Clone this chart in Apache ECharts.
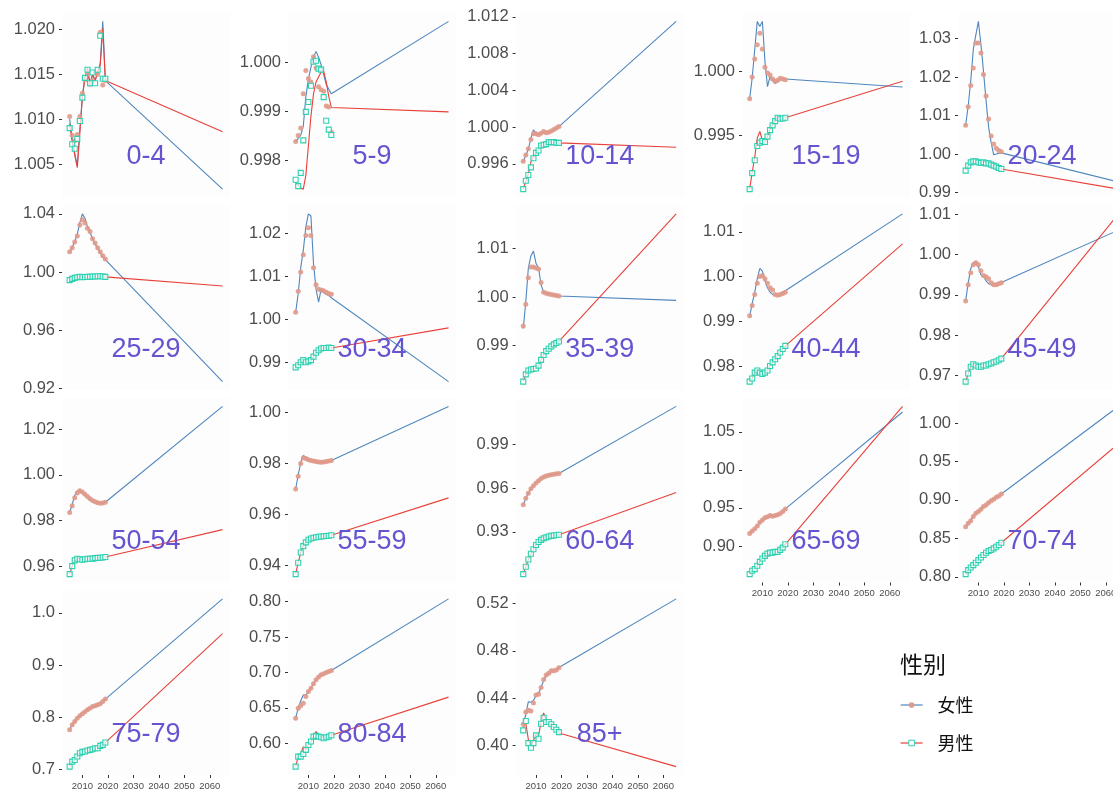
<!DOCTYPE html>
<html>
<head>
<meta charset="utf-8">
<script src="https://cdn.jsdelivr.net/npm/echarts@6/dist/echarts.min.js"></script>
<style>
html,body{margin:0;padding:0;background:#fff;}
#chart{width:1113px;height:791px;}
</style>
</head>
<body>
<div id="chart"></div>
<script>
// Observed years (points) and years of the fitted / projected lines
const YEARS = [2005,2006,2007,2008,2009,2010,2011,2012,2013,2014,2015,2016,2017,2018,2019];
const LINE_YEARS = [2005,2006,2007,2008,2009,2010,2011,2012,2013,2014,2015,2016,2017,2018,2019,2065];
const X_TICKS = [2010,2020,2030,2040,2050,2060];

const AGE_GROUPS = ['0-4','5-9','10-14','15-19','20-24','25-29','30-34','35-39','40-44','45-49',
  '50-54','55-59','60-64','65-69','70-74','75-79','80-84','85+'];

// 0-4
const F_PTS_0_4 = [1.0103,1.0082,1.0076,1.0083,1.0103,1.0129,1.0144,1.0150,1.0139,1.0143,1.0152,1.0150,1.0197,1.0138,1.0143];
const M_PTS_0_4 = [1.0090,1.0072,1.0067,1.0078,1.0098,1.0124,1.0146,1.0155,1.0140,1.0152,1.0140,1.0155,1.0193,1.0145,1.0145];
const F_FIT_0_4 = [1.0100,1.0078,1.0062,1.0048,1.0088,1.0125,1.0148,1.0155,1.0140,1.0150,1.0143,1.0152,1.0162,1.0209,1.0143,1.0022];
const M_FIT_0_4 = [1.0095,1.0075,1.0060,1.0046,1.0085,1.0125,1.0145,1.0157,1.0138,1.0150,1.0143,1.0152,1.0160,1.0201,1.0143,1.0086];
const Y_TICKS_0_4 = ['1.005','1.010','1.015','1.020'];

// 5-9
const F_PTS_5_9 = [0.99839,0.99851,0.99866,0.99936,0.99983,0.99967,0.99960,1.00011,0.99988,0.99950,0.99944,0.99941,0.99911,0.99909,0.99858];
const M_PTS_5_9 = [0.99761,0.99748,0.99775,0.99841,0.99899,0.99919,0.99952,1.00001,1.00003,0.99987,0.99985,0.99929,0.99881,0.99863,0.99852];
const F_FIT_5_9 = [0.99838,0.99845,0.99852,0.99870,0.99930,0.99965,0.99990,1.00010,1.00022,1.00010,0.99995,0.99975,0.99955,0.99945,0.99936,1.00083];
const M_FIT_5_9 = [0.99756,0.99750,0.99744,0.99742,0.99770,0.99830,0.99890,0.99935,0.99960,0.99970,0.99980,0.99982,0.99960,0.99930,0.99908,0.99899];
const Y_TICKS_5_9 = ['0.998','0.999','1.000'];

// 10-14
const F_PTS_10_14 = [0.99628,0.99697,0.99763,0.99865,0.99927,0.99927,0.99916,0.99934,0.99953,0.99938,0.99945,0.99956,0.99974,0.99989,1.00007];
const M_PTS_10_14 = [0.99325,0.99416,0.99478,0.99562,0.99661,0.99719,0.99745,0.99799,0.99807,0.99814,0.99836,0.99836,0.99836,0.99828,0.99828];
const F_FIT_10_14 = [0.99628,0.99690,0.99760,0.99880,0.99970,0.99935,0.99920,0.99930,0.99950,0.99940,0.99945,0.99955,0.99970,0.99985,1.00005,1.01150];
const M_FIT_10_14 = [0.99325,0.99410,0.99490,0.99620,0.99680,0.99720,0.99750,0.99795,0.99805,0.99815,0.99832,0.99835,0.99835,0.99830,0.99828,0.99781];
const Y_TICKS_10_14 = ['0.996','1.000','1.004','1.008','1.012'];

// 15-19
const F_PTS_15_19 = [0.99785,0.99956,1.00096,1.00207,1.00298,1.00174,1.00031,0.99987,0.99972,0.99940,0.99922,0.99930,0.99946,0.99940,0.99935];
const M_PTS_15_19 = [0.99080,0.99205,0.99306,0.99417,0.99443,0.99456,0.99448,0.99490,0.99541,0.99578,0.99611,0.99637,0.99630,0.99632,0.99637];
const F_FIT_15_19 = [0.99785,0.99950,1.00170,1.00390,1.00350,1.00390,1.00080,0.99880,0.99960,0.99930,0.99905,0.99920,0.99945,0.99940,0.99940,0.99878];
const M_FIT_15_19 = [0.99080,0.99210,0.99330,0.99480,0.99530,0.99460,0.99445,0.99490,0.99545,0.99580,0.99615,0.99650,0.99635,0.99632,0.99637,0.99922];
const Y_TICKS_15_19 = ['0.995','1.000'];

// 20-24
const F_PTS_20_24 = [1.0075,1.0123,1.0178,1.0224,1.0289,1.0289,1.0263,1.0207,1.0151,1.0091,1.0047,1.0026,1.0015,1.0009,1.0006];
const M_PTS_20_24 = [0.99569,0.99698,0.99784,0.99810,0.99810,0.99784,0.99767,0.99784,0.99758,0.99758,0.99724,0.99698,0.99672,0.99638,0.99612];
const F_FIT_20_24 = [1.0075,1.0125,1.0190,1.0272,1.0310,1.0345,1.0285,1.0215,1.0140,1.0070,1.0030,0.9998,1.0000,1.0002,1.0003,0.99273];
const M_FIT_20_24 = [0.99569,0.99698,0.99784,0.99810,0.99810,0.99784,0.99767,0.99784,0.99758,0.99758,0.99724,0.99698,0.99672,0.99638,0.99612,0.99088];
const Y_TICKS_20_24 = ['0.99','1.00','1.01','1.02','1.03'];

// 25-29
const F_PTS_25_29 = [1.0139,1.0166,1.0207,1.0247,1.0324,1.0360,1.0337,1.0301,1.0279,1.0229,1.0200,1.0166,1.0139,1.0112,1.0090];
const M_PTS_25_29 = [0.99438,0.99528,0.99596,0.99640,0.99663,0.99640,0.99650,0.99663,0.99663,0.99685,0.99685,0.99708,0.99708,0.99685,0.99663];
const F_FIT_25_29 = [1.0135,1.0170,1.0210,1.0260,1.0340,1.0400,1.0370,1.0310,1.0270,1.0230,1.0195,1.0160,1.0130,1.0105,1.0085,0.9245];
const M_FIT_25_29 = [0.99438,0.99528,0.99596,0.99640,0.99663,0.99640,0.99650,0.99663,0.99663,0.99685,0.99685,0.99708,0.99708,0.99685,0.99663,0.99034];
const Y_TICKS_25_29 = ['0.92','0.96','1.00','1.04'];

// 30-34
const F_PTS_30_34 = [1.0016,1.0065,1.0110,1.0150,1.0195,1.0213,1.0195,1.0120,1.0080,1.0070,1.0068,1.0066,1.0063,1.0060,1.0058];
const M_PTS_30_34 = [0.9888,0.9893,0.9900,0.9905,0.9900,0.9902,0.9905,0.9913,0.9922,0.9928,0.9932,0.9933,0.9933,0.9934,0.9933];
const F_FIT_30_34 = [1.0016,1.0060,1.0120,1.0160,1.0215,1.0245,1.0240,1.0130,1.0070,1.0040,1.0070,1.0062,1.0058,1.0055,1.0050,0.9855];
const M_FIT_30_34 = [0.9888,0.9893,0.9900,0.9905,0.9900,0.9902,0.9905,0.9913,0.9922,0.9928,0.9932,0.9933,0.9933,0.9934,0.9933,0.9980];
const Y_TICKS_30_34 = ['0.99','1.00','1.01','1.02'];

// 35-39
const F_PTS_35_39 = [0.9940,0.9985,1.0040,1.0062,1.0062,1.0060,1.0058,1.0030,1.0010,1.0008,1.0006,1.0005,1.0004,1.0003,1.0002];
const M_PTS_35_39 = [0.9825,0.9840,0.9848,0.9850,0.9851,0.9852,0.9858,0.9870,0.9880,0.9888,0.9893,0.9898,0.9902,0.9905,0.9908];
const F_FIT_35_39 = [0.9935,0.9990,1.0060,1.0085,1.0095,1.0070,1.0060,1.0025,1.0010,1.0008,1.0006,1.0005,1.0004,1.0003,1.0002,0.9993];
const M_FIT_35_39 = [0.9825,0.9840,0.9848,0.9850,0.9851,0.9852,0.9858,0.9870,0.9880,0.9888,0.9893,0.9898,0.9902,0.9905,0.9908,1.0172];
const Y_TICKS_35_39 = ['0.99','1.00','1.01'];

// 40-44
const F_PTS_40_44 = [0.9912,0.9935,0.9960,0.9985,1.0000,1.0002,0.9995,0.9985,0.9975,0.9970,0.9960,0.9958,0.9960,0.9962,0.9965];
const M_PTS_40_44 = [0.9765,0.9772,0.9785,0.9790,0.9785,0.9782,0.9785,0.9790,0.9800,0.9808,0.9815,0.9822,0.9830,0.9838,0.9845];
const F_FIT_40_44 = [0.9910,0.9940,0.9965,0.9995,1.0018,1.0012,0.9990,0.9975,0.9965,0.9960,0.9958,0.9960,0.9962,0.9965,0.9968,1.0140];
const M_FIT_40_44 = [0.9765,0.9772,0.9785,0.9790,0.9785,0.9782,0.9785,0.9790,0.9800,0.9808,0.9815,0.9822,0.9830,0.9838,0.9845,1.0073];
const Y_TICKS_40_44 = ['0.98','0.99','1.00','1.01'];

// 45-49
const F_PTS_45_49 = [0.9885,0.9925,0.9955,0.9975,0.9980,0.9975,0.9960,0.9948,0.9945,0.9940,0.9930,0.9925,0.9925,0.9928,0.9930];
const M_PTS_45_49 = [0.9685,0.9705,0.9722,0.9728,0.9725,0.9722,0.9722,0.9725,0.9725,0.9728,0.9730,0.9733,0.9735,0.9738,0.9742];
const F_FIT_45_49 = [0.9885,0.9930,0.9965,0.9980,0.9982,0.9970,0.9950,0.9945,0.9935,0.9928,0.9925,0.9925,0.9927,0.9929,0.9931,1.0061];
const M_FIT_45_49 = [0.9685,0.9705,0.9722,0.9728,0.9725,0.9722,0.9722,0.9725,0.9725,0.9728,0.9730,0.9733,0.9735,0.9738,0.9742,1.0101];
const Y_TICKS_45_49 = ['0.97','0.98','0.99','1.00','1.01'];

// 50-54
const F_PTS_50_54 = [0.9835,0.9865,0.9900,0.9920,0.9930,0.9925,0.9915,0.9905,0.9895,0.9888,0.9882,0.9878,0.9876,0.9877,0.9880];
const M_PTS_50_54 = [0.9565,0.9600,0.9625,0.9632,0.9630,0.9628,0.9630,0.9632,0.9632,0.9633,0.9635,0.9636,0.9637,0.9638,0.9640];
const F_FIT_50_54 = [0.9835,0.9870,0.9910,0.9930,0.9932,0.9925,0.9912,0.9900,0.9892,0.9885,0.9880,0.9876,0.9875,0.9877,0.9880,1.0300];
const M_FIT_50_54 = [0.9565,0.9600,0.9625,0.9632,0.9630,0.9628,0.9630,0.9632,0.9632,0.9633,0.9635,0.9636,0.9637,0.9638,0.9640,0.9760];
const Y_TICKS_50_54 = ['0.96','0.98','1.00','1.02'];

// 55-59
const F_PTS_55_59 = [0.9700,0.9750,0.9800,0.9822,0.9820,0.9815,0.9812,0.9810,0.9808,0.9806,0.9805,0.9806,0.9808,0.9810,0.9812];
const M_PTS_55_59 = [0.9365,0.9410,0.9450,0.9475,0.9490,0.9500,0.9505,0.9508,0.9510,0.9512,0.9513,0.9514,0.9515,0.9516,0.9518];
const F_FIT_55_59 = [0.9700,0.9755,0.9805,0.9832,0.9825,0.9815,0.9810,0.9808,0.9806,0.9805,0.9805,0.9806,0.9808,0.9810,0.9812,1.0025];
const M_FIT_55_59 = [0.9365,0.9410,0.9450,0.9475,0.9490,0.9500,0.9505,0.9508,0.9510,0.9512,0.9513,0.9514,0.9515,0.9516,0.9518,0.9665];
const Y_TICKS_55_59 = ['0.94','0.96','0.98','1.00'];

// 60-64
const F_PTS_60_64 = [0.9485,0.9530,0.9565,0.9595,0.9615,0.9635,0.9650,0.9665,0.9675,0.9682,0.9688,0.9692,0.9695,0.9698,0.9700];
const M_PTS_60_64 = [0.9010,0.9060,0.9110,0.9150,0.9180,0.9210,0.9230,0.9245,0.9255,0.9262,0.9268,0.9272,0.9275,0.9278,0.9280];
const F_FIT_60_64 = [0.9485,0.9530,0.9565,0.9595,0.9615,0.9635,0.9650,0.9665,0.9675,0.9682,0.9688,0.9692,0.9695,0.9698,0.9700,1.0160];
const M_FIT_60_64 = [0.9010,0.9060,0.9110,0.9150,0.9180,0.9210,0.9230,0.9245,0.9255,0.9262,0.9268,0.9272,0.9275,0.9278,0.9280,0.9570];
const Y_TICKS_60_64 = ['0.93','0.96','0.99'];

// 65-69
const F_PTS_65_69 = [0.9165,0.9196,0.9226,0.9261,0.9313,0.9340,0.9370,0.9383,0.9400,0.9391,0.9400,0.9409,0.9426,0.9452,0.9487];
const M_PTS_65_69 = [0.8630,0.8674,0.8696,0.8739,0.8791,0.8835,0.8870,0.8900,0.8913,0.8913,0.8922,0.8922,0.8948,0.8978,0.9022];
const F_FIT_65_69 = [0.9165,0.9196,0.9226,0.9261,0.9313,0.9340,0.9370,0.9383,0.9400,0.9391,0.9400,0.9409,0.9426,0.9452,0.9487,1.0761];
const M_FIT_65_69 = [0.8630,0.8674,0.8696,0.8739,0.8791,0.8835,0.8870,0.8900,0.8913,0.8913,0.8922,0.8922,0.8948,0.8978,0.9022,1.0835];
const Y_TICKS_65_69 = ['0.90','0.95','1.00','1.05'];

// 70-74
const F_PTS_70_74 = [0.8652,0.8696,0.8730,0.8783,0.8826,0.8848,0.8878,0.8913,0.8935,0.8965,0.8991,0.9009,0.9035,0.9052,0.9078];
const M_PTS_70_74 = [0.8035,0.8087,0.8122,0.8152,0.8183,0.8217,0.8252,0.8283,0.8313,0.8335,0.8348,0.8370,0.8391,0.8413,0.8443];
const F_FIT_70_74 = [0.8652,0.8696,0.8730,0.8783,0.8826,0.8848,0.8878,0.8913,0.8935,0.8965,0.8991,0.9009,0.9035,0.9052,0.9078,1.0217];
const M_FIT_70_74 = [0.8035,0.8087,0.8122,0.8152,0.8183,0.8217,0.8252,0.8283,0.8313,0.8335,0.8348,0.8370,0.8391,0.8413,0.8443,0.9733];
const Y_TICKS_70_74 = ['0.80','0.85','0.90','0.95','1.00'];

// 75-79
const F_PTS_75_79 = [0.7756,0.7853,0.7917,0.7981,0.8026,0.8064,0.8103,0.8141,0.8173,0.8205,0.8218,0.8237,0.8256,0.8301,0.8346];
const M_PTS_75_79 = [0.7051,0.7147,0.7179,0.7244,0.7308,0.7333,0.7340,0.7359,0.7372,0.7385,0.7404,0.7404,0.7449,0.7468,0.7513];
const F_FIT_75_79 = [0.7756,0.7853,0.7917,0.7981,0.8026,0.8064,0.8103,0.8141,0.8173,0.8205,0.8218,0.8237,0.8256,0.8301,0.8346,1.0269];
const M_FIT_75_79 = [0.7051,0.7147,0.7179,0.7244,0.7308,0.7333,0.7340,0.7359,0.7372,0.7385,0.7404,0.7404,0.7449,0.7468,0.7513,0.9603];
const Y_TICKS_75_79 = ['0.7','0.8','0.9','1.0'];

// 80-84
const F_PTS_80_84 = [0.6354,0.6495,0.6528,0.6566,0.6660,0.6731,0.6778,0.6840,0.6896,0.6934,0.6967,0.6981,0.7000,0.7014,0.7028];
const M_PTS_80_84 = [0.5670,0.5811,0.5811,0.5849,0.5906,0.5976,0.6024,0.6094,0.6104,0.6094,0.6085,0.6071,0.6085,0.6094,0.6113];
const F_FIT_80_84 = [0.6354,0.6495,0.6600,0.6680,0.6680,0.6731,0.6778,0.6840,0.6896,0.6934,0.6967,0.6981,0.7000,0.7014,0.7028,0.8038];
const M_FIT_80_84 = [0.5670,0.5811,0.5850,0.5950,0.5906,0.5976,0.6024,0.6094,0.6165,0.6120,0.6085,0.6071,0.6085,0.6094,0.6113,0.6651];
const Y_TICKS_80_84 = ['0.60','0.65','0.70','0.75','0.80'];

// 85+
const F_PTS_85 = [0.4179,0.4284,0.4298,0.4292,0.4360,0.4426,0.4434,0.4491,0.4559,0.4596,0.4610,0.4633,0.4633,0.4638,0.4658];
const M_PTS_85 = [0.4128,0.4207,0.4020,0.3980,0.4020,0.4085,0.4057,0.4184,0.4235,0.4199,0.4199,0.4179,0.4156,0.4133,0.4113];
const F_FIT_85 = [0.4185,0.4260,0.4370,0.4365,0.4380,0.4420,0.4440,0.4490,0.4550,0.4590,0.4610,0.4625,0.4635,0.4645,0.4660,0.5240];
const M_FIT_85 = [0.4150,0.4190,0.4050,0.3995,0.4040,0.4100,0.4080,0.4200,0.4275,0.4215,0.4200,0.4170,0.4150,0.4125,0.4105,0.3821];
const Y_TICKS_85 = ['0.40','0.44','0.48','0.52'];

const F_PTS = [F_PTS_0_4,F_PTS_5_9,F_PTS_10_14,F_PTS_15_19,F_PTS_20_24,F_PTS_25_29,F_PTS_30_34,F_PTS_35_39,F_PTS_40_44,F_PTS_45_49,F_PTS_50_54,F_PTS_55_59,F_PTS_60_64,F_PTS_65_69,F_PTS_70_74,F_PTS_75_79,F_PTS_80_84,F_PTS_85];
const M_PTS = [M_PTS_0_4,M_PTS_5_9,M_PTS_10_14,M_PTS_15_19,M_PTS_20_24,M_PTS_25_29,M_PTS_30_34,M_PTS_35_39,M_PTS_40_44,M_PTS_45_49,M_PTS_50_54,M_PTS_55_59,M_PTS_60_64,M_PTS_65_69,M_PTS_70_74,M_PTS_75_79,M_PTS_80_84,M_PTS_85];
const F_FIT = [F_FIT_0_4,F_FIT_5_9,F_FIT_10_14,F_FIT_15_19,F_FIT_20_24,F_FIT_25_29,F_FIT_30_34,F_FIT_35_39,F_FIT_40_44,F_FIT_45_49,F_FIT_50_54,F_FIT_55_59,F_FIT_60_64,F_FIT_65_69,F_FIT_70_74,F_FIT_75_79,F_FIT_80_84,F_FIT_85];
const M_FIT = [M_FIT_0_4,M_FIT_5_9,M_FIT_10_14,M_FIT_15_19,M_FIT_20_24,M_FIT_25_29,M_FIT_30_34,M_FIT_35_39,M_FIT_40_44,M_FIT_45_49,M_FIT_50_54,M_FIT_55_59,M_FIT_60_64,M_FIT_65_69,M_FIT_70_74,M_FIT_75_79,M_FIT_80_84,M_FIT_85];
const Y_TICKS = [Y_TICKS_0_4,Y_TICKS_5_9,Y_TICKS_10_14,Y_TICKS_15_19,Y_TICKS_20_24,Y_TICKS_25_29,Y_TICKS_30_34,Y_TICKS_35_39,Y_TICKS_40_44,Y_TICKS_45_49,Y_TICKS_50_54,Y_TICKS_55_59,Y_TICKS_60_64,Y_TICKS_65_69,Y_TICKS_70_74,Y_TICKS_75_79,Y_TICKS_80_84,Y_TICKS_85];

// Facet layout (5 columns x 4 rows, last row partial)
const COL_LEFT = [62, 288, 515.6, 742, 958];
const ROW_TOP = [13, 205.5, 398, 590.5];
const PANEL_W = 168.2;
const PANEL_H = 184.5;
const X_MIN = 2002, X_MAX = 2068;

const COLOR_F_LINE = '#4F87BE';
const COLOR_F_PT = '#E0998A';
const COLOR_M_LINE = '#E8413A';
const COLOR_M_PT = '#2FD0B0';
const COLOR_LABEL = '#6454D0';
const AXIS_TEXT = '#4D4D4D';
const FONT = '"Liberation Sans", Arial, sans-serif';

const grids = [], xAxes = [], yAxes = [], series = [];

AGE_GROUPS.forEach((name, i) => {
  const col = i % 5, row = Math.floor(i / 5);
  const showX = row === 3 || (row === 2 && col >= 3);
  const all = [].concat(F_PTS[i], M_PTS[i], F_FIT[i], M_FIT[i]);
  const lo = Math.min.apply(null, all), hi = Math.max.apply(null, all);
  const pad = (hi - lo) * 0.05;
  const yMin = lo - pad, yMax = hi + pad;
  const ticks = Y_TICKS[i].map(Number);
  const tickText = {};
  Y_TICKS[i].forEach(t => { tickText[Number(t).toFixed(6)] = t; });

  grids.push({
    left: COL_LEFT[col], top: ROW_TOP[row], width: PANEL_W, height: PANEL_H,
    show: true, backgroundColor: '#FDFDFD', borderWidth: 0,
    outerBoundsMode: 'none', containLabel: false
  });
  xAxes.push({
    type: 'value', gridIndex: i, min: X_MIN, max: X_MAX,
    axisLine: { show: false }, splitLine: { show: false },
    axisTick: { show: showX, length: 3, lineStyle: { color: '#333', width: 1 }, customValues: X_TICKS },
    axisLabel: { show: showX, customValues: X_TICKS, fontSize: 9.5, color: AXIS_TEXT,
      fontFamily: FONT, margin: 6, formatter: v => String(v) }
  });
  yAxes.push({
    type: 'value', gridIndex: i, min: yMin, max: yMax,
    axisLine: { show: false }, splitLine: { show: false },
    axisTick: { show: true, length: 3, lineStyle: { color: '#333', width: 1 }, customValues: ticks },
    axisLabel: { customValues: ticks, fontSize: 16.5, color: AXIS_TEXT, fontFamily: FONT, margin: 7,
      formatter: v => tickText[Number(v).toFixed(6)] || String(v) }
  });

  series.push({
    type: 'line', name: '女性', xAxisIndex: i, yAxisIndex: i,
    data: LINE_YEARS.map((y, k) => [y, F_FIT[i][k]]),
    showSymbol: false, symbol: 'circle', symbolSize: 5,
    lineStyle: { color: COLOR_F_LINE, width: 1.1 }, itemStyle: { color: COLOR_F_PT },
    silent: true, animation: false, z: 2
  });
  series.push({
    type: 'line', name: '男性', xAxisIndex: i, yAxisIndex: i,
    data: LINE_YEARS.map((y, k) => [y, M_FIT[i][k]]),
    showSymbol: false, symbol: 'rect', symbolSize: 5,
    lineStyle: { color: COLOR_M_LINE, width: 1.1 },
    itemStyle: { color: '#FFFFFF', borderColor: COLOR_M_PT, borderWidth: 1 },
    silent: true, animation: false, z: 2
  });
  series.push({
    type: 'scatter', name: '女性', xAxisIndex: i, yAxisIndex: i,
    data: YEARS.map((y, k) => [y, F_PTS[i][k]]),
    symbol: 'circle', symbolSize: 5,
    itemStyle: { color: COLOR_F_PT, opacity: 0.9 },
    silent: true, animation: false, z: 3
  });
  series.push({
    type: 'scatter', name: '男性', xAxisIndex: i, yAxisIndex: i,
    data: YEARS.map((y, k) => [y, M_PTS[i][k]]),
    symbol: 'rect', symbolSize: 5,
    itemStyle: { color: 'rgba(255,255,255,0.7)', borderColor: COLOR_M_PT, borderWidth: 1.1, opacity: 1 },
    silent: true, animation: false, z: 3
  });
  // age-group label placed inside the panel
  series.push({
    type: 'scatter', name: 'label ' + name, xAxisIndex: i, yAxisIndex: i,
    data: [[2035, yMin + (yMax - yMin) * 0.22]],
    symbolSize: 0, silent: true, animation: false, z: 4,
    itemStyle: { color: COLOR_LABEL, opacity: 1 },
    label: { show: true, position: 'inside', formatter: name, fontSize: 27,
      color: COLOR_LABEL, textBorderWidth: 0, fontFamily: FONT }
  });
});

const chart = echarts.init(document.getElementById('chart'), null, { renderer: 'canvas' });
chart.setOption({
  backgroundColor: '#FFFFFF',
  animation: false,
  title: {
    text: '性别', left: 895, top: 648,
    textStyle: { fontSize: 23, fontWeight: 'normal', color: '#111', fontFamily: '"Noto Sans CJK SC", sans-serif' }
  },
  legend: {
    orient: 'vertical', left: 895, top: 691,
    itemWidth: 22, itemHeight: 7, itemGap: 20,
    data: [
      { name: '女性', itemStyle: { color: COLOR_F_PT }, lineStyle: { color: COLOR_F_LINE, width: 1.2 } },
      { name: '男性', itemStyle: { color: '#FFFFFF', borderColor: COLOR_M_PT, borderWidth: 1 }, lineStyle: { color: COLOR_M_LINE, width: 1.2 } }
    ],
    textStyle: { fontSize: 18, color: '#111', fontFamily: '"Noto Sans CJK SC", sans-serif', padding: [0, 0, 0, 10] },
    selectedMode: false
  },
  grid: grids,
  xAxis: xAxes,
  yAxis: yAxes,
  series: series
});
</script>
</body>
</html>
